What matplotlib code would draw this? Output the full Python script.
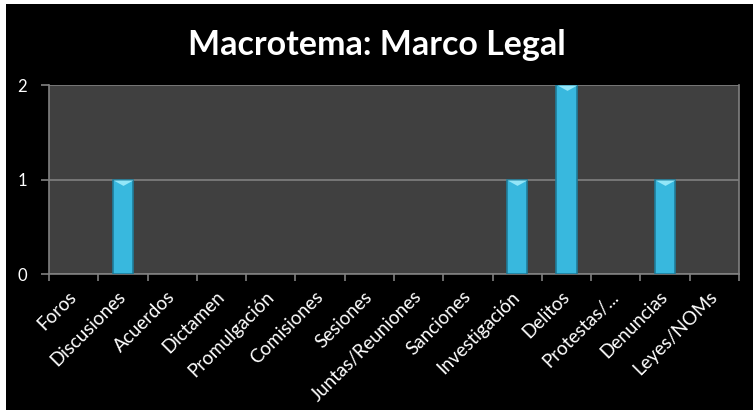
import matplotlib
matplotlib.use('Agg')
import matplotlib.pyplot as plt
import matplotlib.transforms as mtransforms
from matplotlib.patches import Rectangle
import numpy as np

plt.rcParams['font.family'] = ['Lato', 'DejaVu Sans']

#-----DATOS-----
categorias = ['Foros', 'Discusiones', 'Acuerdos', 'Dictamen', 'Promulgación',
              'Comisiones', 'Sesiones', 'Juntas/Reuniones', 'Sanciones',
              'Investigación', 'Delitos', 'Protestas/...', 'Denuncias', 'Leyes/NOMs']
valores = [0, 1, 0, 0, 0, 0, 0, 0, 0, 1, 2, 0, 1, 0]
titulo = 'Macrotema: Marco Legal'
#-----DATOS-----

W, H = 753, 411
fig = plt.figure(figsize=(W / 100, H / 100), dpi=100, facecolor='white')
# fondo negro dentro del marco blanco
fig.patches.append(Rectangle((6 / W, 1 / H), 1 - 6 / W, 1 - 5 / H,
                             transform=fig.transFigure, facecolor='black',
                             edgecolor='none', zorder=-10))

ax = fig.add_axes([49 / W, (H - 274) / H, (739 - 49) / W, (274 - 85) / H])
ax.set_facecolor('#404040')

x = np.arange(len(categorias))
bordes = ['#1f7d9a' if v > 0 else 'none' for v in valores]
ax.bar(x, valores, width=0.41, color='#38b8de', edgecolor=bordes,
       linewidth=1.2, zorder=3)
# brillo superior de cada barra
chevron = [(-1, 0), (1, 0), (0, -0.55)]
alto = [v for v in valores if v > 0]
xs = [i for i, v in zip(x, valores) if v > 0]
ax.scatter(xs, alto, marker=chevron, s=200, color='#93e6f8', linewidths=0,
           zorder=4)

ax.set_xlim(-0.5, len(categorias) - 0.5)
ax.set_ylim(0, 2)
ax.set_yticks([0, 1, 2])
ax.grid(axis='y', color='#808080', linewidth=1.2, zorder=1)

# etiquetas de categoria (texto girado, desplazado como en Excel)
ax.set_xticks(x)
ax.set_xticklabels([])
base = ax.get_xaxis_transform()
desplaza = mtransforms.ScaledTranslation(0.0, -0.20, fig.dpi_scale_trans)
for i, cat in zip(x, categorias):
    ax.text(i, 0, cat, transform=base + desplaza, rotation=45, ha='right',
            va='center', rotation_mode='anchor', color='white', fontsize=13.5)

ax.set_xticks(np.arange(-0.5, len(categorias)), minor=True)
ax.tick_params(axis='x', which='major', length=0)
ax.tick_params(axis='x', which='minor', length=5, color='#808080', width=1.2)
ax.tick_params(axis='y', length=6, color='#808080', width=1.2,
               labelcolor='white', labelsize=12, pad=10)

for s in ['top', 'right', 'left']:
    ax.spines[s].set_visible(False)
ax.spines['bottom'].set_color('#808080')
ax.spines['bottom'].set_linewidth(1.2)
ax.plot([0, 0], [0, 1], transform=ax.transAxes, color='#808080', lw=1.2,
        clip_on=False, zorder=5)
ax.plot([1, 1], [0, 1], transform=ax.transAxes, color='#808080', lw=1.2,
        clip_on=False, zorder=5)

fig.text(0.5, (H - 45) / H, titulo, ha='center', va='center', color='white',
         fontsize=24.5, fontweight='bold')

fig.savefig('out.png', dpi=100, facecolor='white')
